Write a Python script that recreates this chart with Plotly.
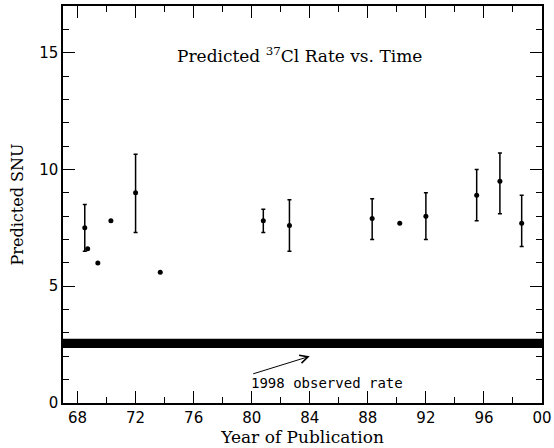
import plotly.graph_objects as go

# Predictions with error bars
yr_err = [68.5, 72.0, 80.8, 82.6, 88.3, 92.0, 95.5, 97.1, 98.6]
snu_err = [7.5, 9.0, 7.8, 7.6, 7.9, 8.0, 8.9, 9.5, 7.7]
snu_hi = [8.5, 10.65, 8.3, 8.7, 8.75, 9.0, 10.0, 10.7, 8.9]
snu_lo = [6.5, 7.3, 7.3, 6.5, 7.0, 7.0, 7.8, 8.1, 6.7]

# Predictions without error bars
yr_pt = [68.7, 69.4, 70.3, 73.7, 90.2]
snu_pt = [6.6, 6.0, 7.8, 5.6, 7.7]

# 1998 observed rate band
obs_low, obs_high = 2.35, 2.75

x_tickvals = [68, 72, 76, 80, 84, 88, 92, 96, 100]
x_ticktext = ["68", "72", "76", "80", "84", "88", "92", "96", "00"]
y_tickvals = [0, 5, 10, 15]

FONT = "DejaVu Serif"

fig = go.Figure()

fig.add_trace(go.Scatter(
    x=yr_err, y=snu_err, mode="markers",
    marker=dict(color="black", size=5),
    error_y=dict(type="data", symmetric=False,
                 array=[h - v for h, v in zip(snu_hi, snu_err)],
                 arrayminus=[v - l for l, v in zip(snu_lo, snu_err)],
                 color="black", thickness=1.5, width=2),
    showlegend=False,
))
fig.add_trace(go.Scatter(
    x=yr_pt, y=snu_pt, mode="markers",
    marker=dict(color="black", size=5),
    showlegend=False,
))

fig.add_shape(type="rect", xref="paper", yref="y", x0=0, x1=1,
              y0=obs_low, y1=obs_high, fillcolor="black", line=dict(width=0))

fig.add_annotation(x=84.0, y=2.0, ax=80.0, ay=1.23, xref="x", yref="y",
                   axref="x", ayref="y", text="", showarrow=True,
                   arrowhead=5, arrowsize=1.6, arrowwidth=1, arrowcolor="black")
fig.add_annotation(x=85.2, y=0.85, xref="x", yref="y",
                   text="1998 observed rate", showarrow=False,
                   font=dict(family="DejaVu Sans Mono", size=14, color="black"))
fig.add_annotation(x=83.3, y=14.9, xref="x", yref="y",
                   text="Predicted <sup>37</sup>Cl Rate vs. Time", showarrow=False,
                   font=dict(family=FONT, size=17, color="black"))

axis_common = dict(showline=True, linecolor="black", linewidth=1.5, mirror="ticks",
                   ticks="inside", ticklen=12, tickwidth=1, tickcolor="black",
                   showgrid=False, zeroline=False,
                   tickfont=dict(family="DejaVu Sans", size=15, color="black"))

fig.update_xaxes(range=[67, 100], tickvals=x_tickvals, ticktext=x_ticktext,
                 minor=dict(dtick=2, tick0=68, ticks="inside", ticklen=6,
                            tickcolor="black", showgrid=False),
                 title=dict(text="Year of Publication", standoff=2,
                            font=dict(family=FONT, size=17, color="black")),
                 **axis_common)
fig.update_yaxes(range=[0, 17], tickvals=y_tickvals,
                 minor=dict(dtick=1, tick0=0, ticks="inside", ticklen=6,
                            tickcolor="black", showgrid=False),
                 title=dict(text="Predicted SNU", standoff=12,
                            font=dict(family=FONT, size=16, color="black")),
                 **axis_common)

fig.update_layout(width=554, height=448,
                  margin=dict(l=63, r=12, t=6, b=45, autoexpand=False),
                  plot_bgcolor="white", paper_bgcolor="white")

fig.write_html("out.html", config={"displayModeBar": False},
               post_script="document.body.style.margin='0';document.body.style.overflow='hidden';")
